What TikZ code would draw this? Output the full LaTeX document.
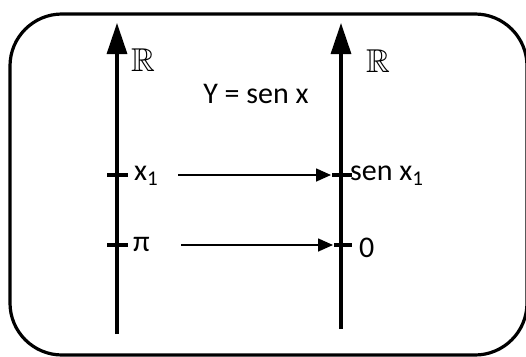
\documentclass[tikz,border=0pt]{standalone}
\usepackage{fontspec}
\setmainfont{Carlito}
\usepackage{amssymb}
\usetikzlibrary{arrows.meta}
\begin{document}
\begin{tikzpicture}[x=1pt,y=-1pt,
  axisline/.style={line width=3.2pt,-{Triangle[length=31pt,width=20pt]}},
  tickmark/.style={line width=3.2pt},
  maparrow/.style={line width=1.6pt,-{Triangle[length=15pt,width=13pt]}},
  lbl/.style={font=\fontsize{30}{34}\selectfont, inner sep=0pt},
  setlbl/.style={font=\fontsize{33}{36}\selectfont, inner sep=0pt},
  frame/.style={line width=3.2pt, rounded corners=52pt}]
\useasboundingbox (0,0) rectangle (526,356);
\draw[frame] (10,14) rectangle (527,355);
% axes
\coordinate (Lb) at (117,334);
\coordinate (Lt) at (117,23);
\coordinate (Rb) at (341,329);
\coordinate (Rt) at (341,23);
\draw[axisline] (Lb) -- (Lt);
\draw[axisline] (Rb) -- (Rt);
% ticks
\coordinate (tx) at (117,175);
\coordinate (tp) at (117,245);
\coordinate (ts) at (341,175);
\coordinate (tz) at (341,245);
\draw[tickmark] ([xshift=-10pt]tx) -- ([xshift=11pt]tx);
\draw[tickmark] ([xshift=-10pt]tp) -- ([xshift=11pt]tp);
\draw[tickmark] ([xshift=-9pt]ts) -- ([xshift=11pt]ts);
\draw[tickmark] ([xshift=-7pt]tz) -- ([xshift=11pt]tz);
% labels
\node[setlbl] (RL) at (143,60) {$\mathbb{R}$};
\node[setlbl] (RR) at (378,61) {$\mathbb{R}$};
\node[lbl] (f) at (256,94) {Y = sen x};
\node[lbl, anchor=west] (x1) at (134,176) {x\textsubscript{1}};
\node[lbl, anchor=west] (pi) at (133,244) {π};
\node[lbl, anchor=west] (sx) at (350,176) {sen x\textsubscript{1}};
\node[lbl, anchor=west] (zero) at (359,248) {0};
% mapping arrows
\coordinate (a1s) at (178,175);
\coordinate (a1e) at (331,175);
\coordinate (a2s) at (181,245);
\coordinate (a2e) at (333,245);
\draw[maparrow] (a1s) -- (a1e);
\draw[maparrow] (a2s) -- (a2e);
\end{tikzpicture}
\end{document}
